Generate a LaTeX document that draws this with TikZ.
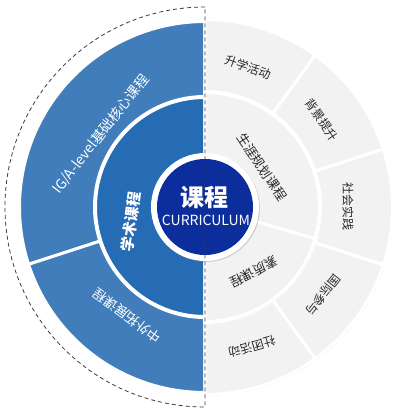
\documentclass[tikz,border=0pt]{standalone}
\usepackage{fontspec}
\setmainfont{Noto Sans CJK SC}
\usetikzlibrary{shadows}
\definecolor{outerblue}{RGB}{64,125,186}
\definecolor{innerblue}{RGB}{38,108,180}
\definecolor{coreblue}{RGB}{12,46,156}
\definecolor{segrey}{RGB}{242,242,242}
\definecolor{labelgrey}{RGB}{40,40,40}
\definecolor{dashgrey}{RGB}{60,60,60}
% ring part: [style]{start angle}{end angle}{inner r}{outer r}
\newcommand\ringpart[5][]{%
  \draw[#1] (#2:#4) arc[start angle=#2,end angle=#3,radius=#4]
    -- (#3:#5) arc[start angle=#3,end angle=#2,radius=#5] -- cycle;}
\begin{document}
\begin{tikzpicture}[x=1pt,y=1pt,
    seg/.style={draw=white,line width=3pt,
      drop shadow={shadow xshift=1pt,shadow yshift=-1.2pt,opacity=0.25}},
    bluetxt/.style={text=white,font=\fontsize{14}{14}\selectfont},
    greytxt/.style={text=labelgrey,font=\fontsize{12}{12}\selectfont}]
  \useasboundingbox (-205,-208) rectangle (195,207);
  % outer ring
  \ringpart[seg,fill=outerblue]{90}{198}{110.5}{185.5}
  \ringpart[seg,fill=outerblue]{198}{270}{110.5}{185.5}
  \foreach \a/\b in {90/54,54/18,18/-18,-18/-54,-54/-90}
    \ringpart[seg,fill=segrey]{\a}{\b}{115.5}{187.5}
  % middle ring
  \ringpart[seg,fill=innerblue]{90}{270}{52}{109.5}
  \ringpart[seg,fill=segrey]{90}{-16}{52}{114.5}
  \ringpart[seg,fill=segrey]{-16}{-90}{52}{114.5}
  % core
  \fill[white,drop shadow={shadow xshift=1pt,shadow yshift=-1pt,opacity=0.3}] (0,0) circle (54);
  \fill[coreblue] (0,0) circle (48);
  \draw[dashgrey,line width=0.8pt,dash pattern=on 4pt off 3pt]
    (0,200) arc[start angle=90,end angle=270,radius=200] -- cycle;
  % labels
  \node[bluetxt,rotate=52] (igal) at (-104,73) {IG/A-level基础核心课程};
  \node[bluetxt,font=\fontsize{13.5}{14}\selectfont,rotate=144] (ext) at (-78,-109) {中外拓展课程};
  \node[bluetxt,font=\bfseries\fontsize{15}{15}\selectfont,rotate=82] (acad) at (-74,-15) {学术课程};
  \node[greytxt,font=\fontsize{13}{13}\selectfont,rotate=-56] (career) at (57,40) {生涯规划课程};
  \node[greytxt,font=\fontsize{13}{13}\selectfont,rotate=-153] (quality) at (49,-65) {素质课程};
  \node[greytxt,rotate=-20] (admit) at (43,140) {升学活动};
  \node[greytxt,rotate=-56] (backg) at (117,87) {背景提升};
  \node[greytxt,rotate=-90] (social) at (143,0) {社会实践};
  \node[greytxt,rotate=-128] (intl) at (118,-88) {国际参与};
  \node[greytxt,rotate=-164] (club) at (47,-140) {社团活动};
  \node[text=white,font=\bfseries\fontsize{24}{24}\selectfont] (core) at (0,10) {课程};
  \node[text=white,font=\fontsize{14}{14}\selectfont] (coreen) at (1,-13) {CURRICULUM};
\end{tikzpicture}
\end{document}
